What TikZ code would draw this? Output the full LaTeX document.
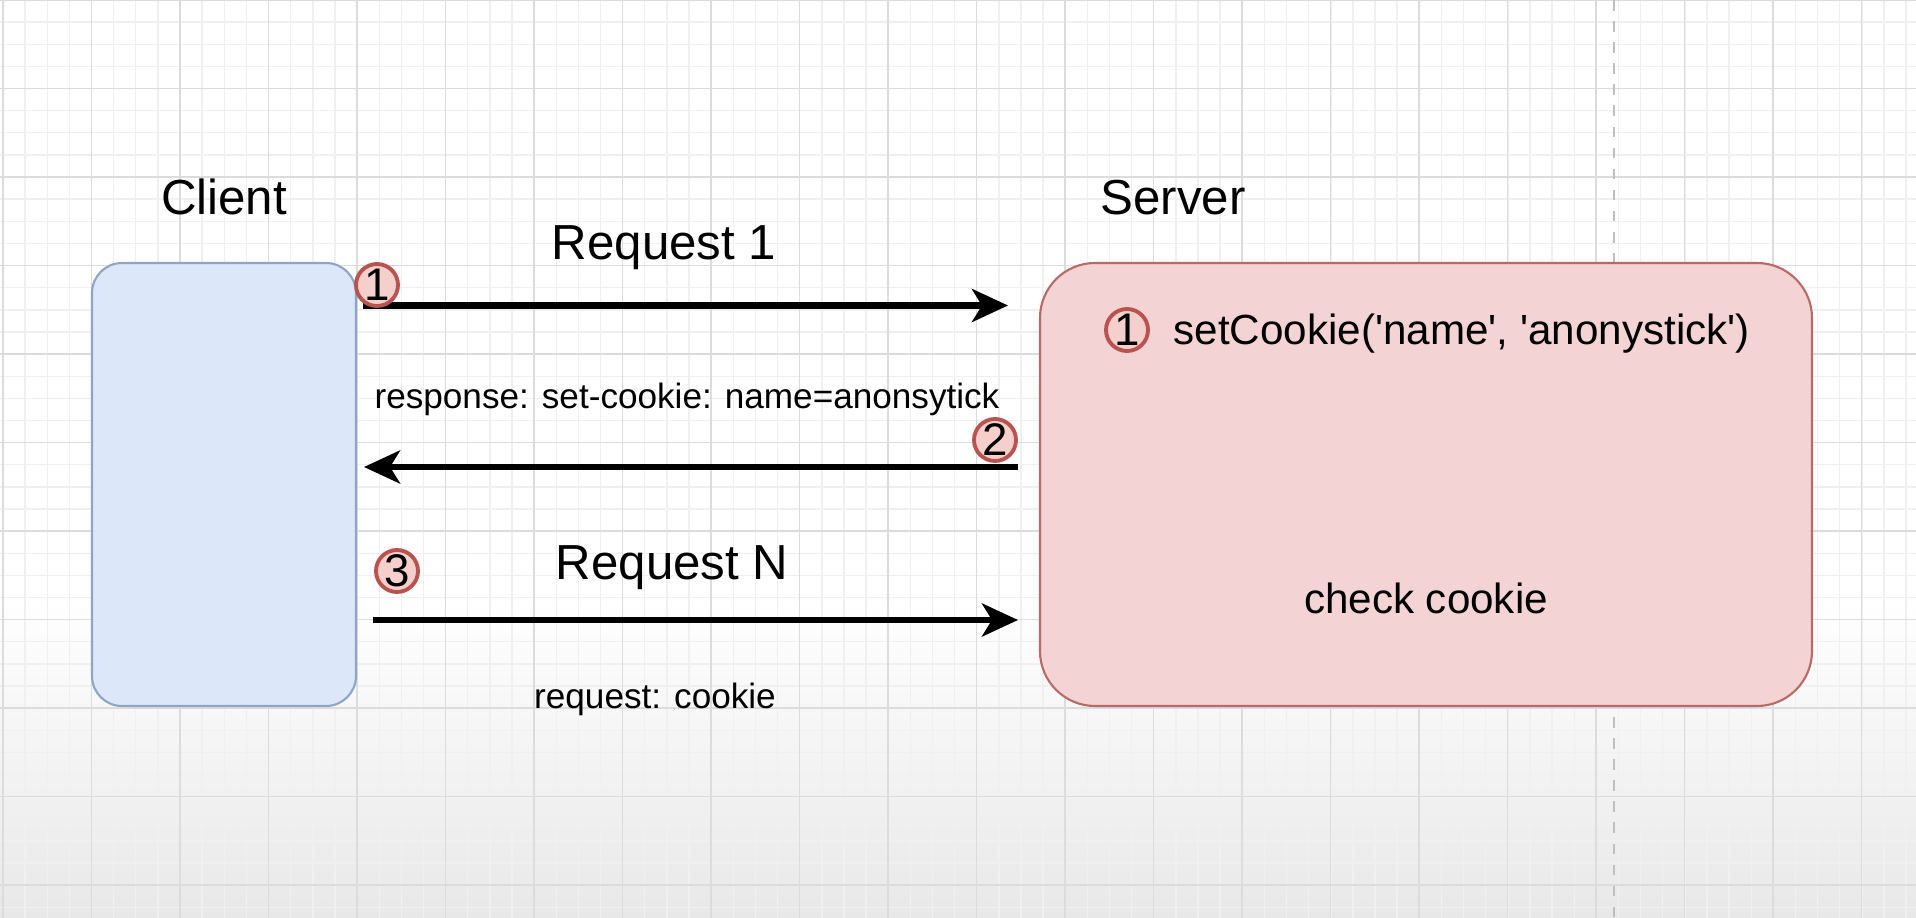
\documentclass[tikz,border=0pt]{standalone}
\usepackage{fontspec}
\setmainfont{Liberation Sans}
\usetikzlibrary{arrows.meta, positioning, calc}
\definecolor{ClientFill}{HTML}{DDE7FA}
\definecolor{ClientLine}{HTML}{8FA5C8}
\definecolor{ServerFill}{HTML}{F3D3D3}
\definecolor{ServerLine}{HTML}{B86A66}
\definecolor{MarkFill}{HTML}{F5CFCC}
\definecolor{MarkLine}{HTML}{B85450}
\definecolor{GridMinor}{HTML}{F0F0F0}
\definecolor{GridMajor}{HTML}{DCDCDC}
\newcommand{\sq}{\textquotesingle}
\tikzset{
  clientbox/.style={rectangle, rounded corners=0.3cm, draw=ClientLine, fill=ClientFill, line width=0.6pt, minimum width=2.64cm, minimum height=4.43cm},
  serverbox/.style={rectangle, rounded corners=0.55cm, draw=ServerLine, fill=ServerFill, line width=0.6pt, minimum width=7.72cm, minimum height=4.43cm},
  titletext/.style={font=\fontsize{14}{16}\selectfont, inner sep=0pt, anchor=base},
  msgtext/.style={font=\fontsize{10}{12}\selectfont, inner sep=0pt, anchor=base},
  codetext/.style={font=\fontsize{12}{14}\selectfont, inner sep=0pt, anchor=base},
  stepmark/.style={circle, draw=MarkLine, fill=MarkFill, line width=1.1pt, minimum size=0.42cm, inner sep=0pt, font=\fontsize{13}{13}\selectfont},
  msgarrow/.style={-{Stealth[length=0.36cm, width=0.33cm, inset=0.1cm]}, line width=1.8pt, black}
}

\begin{document}
\begin{tikzpicture}
  % Canvas and grid
  \useasboundingbox (0,-9.18) rectangle (19.16,0);
  \fill[white] (0,-9.18) rectangle (19.16,0);
  \shade[top color=white, bottom color=black!9] (0,-9.18) rectangle (19.16,-6.0);
  \begin{scope}[shift={(0.03,0)}]
    \draw[GridMinor, line width=0.4pt, step=0.2213cm] (-0.03,-9.18) grid (19.13,0);
    \draw[GridMajor, line width=0.5pt, step=0.885cm] (-0.03,-9.18) grid (19.13,0);
  \end{scope}
  \draw[black!25, dashed, line width=0.6pt] (16.14,0) -- (16.14,-9.18);

  % Client and server
  \node[clientbox] (client) at (2.24,-4.845) {};
  \node[serverbox] (server) at (14.26,-4.845) {};
  \node[titletext] (clientlabel) at (2.24,-2.14) {Client};
  \node[titletext] (serverlabel) at (11.73,-2.14) {Server};

  % Messages
  \coordinate (req1start) at (3.63,-3.055);
  \coordinate (req1end) at (10.08,-3.055);
  \coordinate (respstart) at (10.18,-4.67);
  \coordinate (respend) at (3.64,-4.67);
  \coordinate (reqNstart) at (3.73,-6.20);
  \coordinate (reqNend) at (10.18,-6.20);
  \draw[msgarrow] (req1start) -- (req1end);
  \draw[msgarrow] (respstart) -- (respend);
  \draw[msgarrow] (reqNstart) -- (reqNend);

  \node[titletext] (req1label) at (6.64,-2.59) {Request 1};
  \node[msgtext] (resplabel) at (6.87,-4.08) {response: set-cookie: name=anonsytick};
  \node[titletext] (reqNlabel) at (6.72,-5.79) {Request N};
  \node[msgtext] (cookielabel) at (6.55,-7.08) {request: cookie};

  % Step marks
  \node[stepmark] (mark1) at (3.77,-2.85) {1};
  \node[stepmark] (mark2) at (9.95,-4.40) {2};
  \node[stepmark] (mark3) at (3.97,-5.71) {3};

  % Server actions
  \node[stepmark] (srvmark1) at (11.27,-3.30) {1};
  \node[codetext, anchor=base west] (setcookie) at (11.73,-3.44) {setCookie(\sq name\sq, \sq anonystick\sq)};
  \node[codetext] (checkcookie) at (14.26,-6.13) {check cookie};
\end{tikzpicture}
\end{document}
